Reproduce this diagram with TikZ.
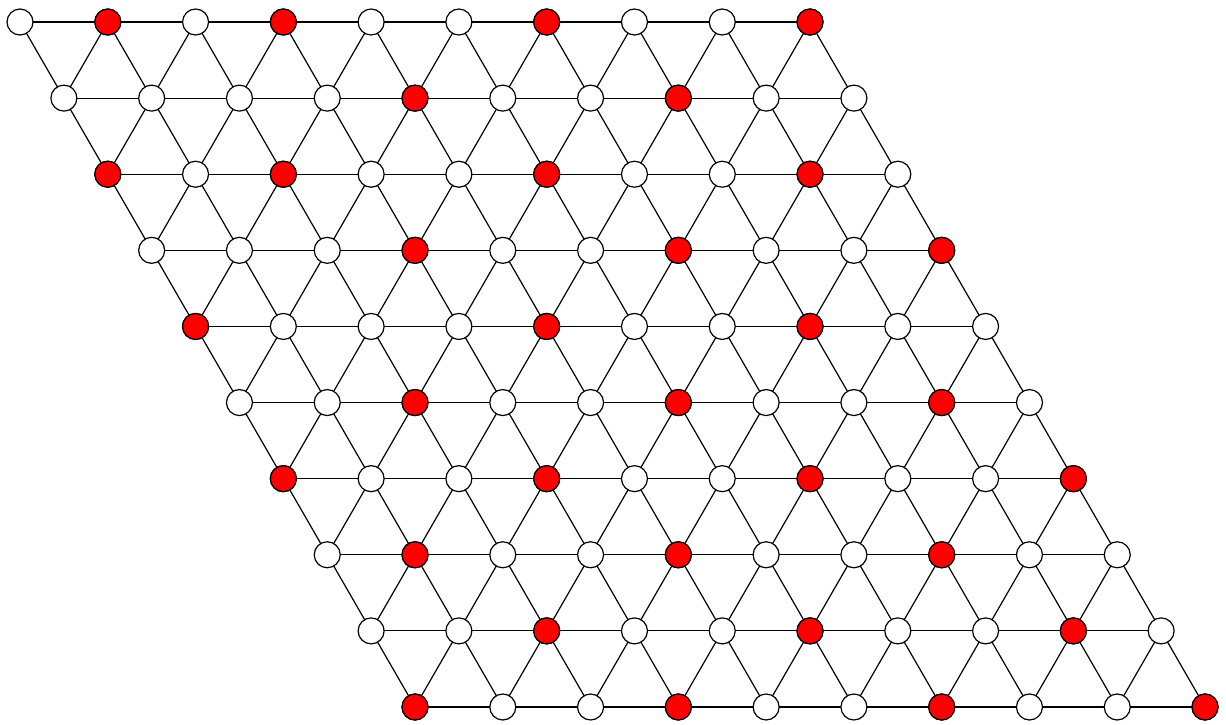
\documentclass[tikz,border=0pt]{standalone}
\begin{document}
\begin{tikzpicture}[x=1pt,y=-1pt,
  vtx/.style={circle,draw=black,line width=1.2pt,fill=white,minimum size=26pt,inner sep=0pt},
  red vtx/.style={vtx,fill=red},
  edge/.style={line width=1.2pt,draw=black}]
\useasboundingbox (0,0) rectangle (1226,724);
\def\dx{43.89}
\def\dy{76.11}
\foreach \r in {0,...,9}{
  \foreach \c in {0,...,9}{
    \coordinate (p-\r-\c) at ({20+\dx*(\r+2*\c)},{22+\dy*\r});
  }
}
% edges
\foreach \r in {0,...,9}{
  \foreach \c [evaluate=\c as \cn using int(\c+1)] in {0,...,8}{
    \draw[edge] (p-\r-\c) -- (p-\r-\cn);
  }
}
\foreach \r [evaluate=\r as \rn using int(\r+1)] in {0,...,8}{
  \foreach \c in {0,...,9}{
    \draw[edge] (p-\r-\c) -- (p-\rn-\c);
  }
  \foreach \c [evaluate=\c as \cm using int(\c-1)] in {1,...,9}{
    \draw[edge] (p-\r-\c) -- (p-\rn-\cm);
  }
}
% nodes
\foreach \r in {0,...,9}{
  \foreach \c in {0,...,9}{
    \node[vtx] (n-\r-\c) at (p-\r-\c) {};
  }
}
\foreach \r/\c in {0/1,0/3,0/6,0/9,
  1/4,1/7,
  2/0,2/2,2/5,2/8,
  3/3,3/6,3/9,
  4/0,4/4,4/7,
  5/2,5/5,5/8,
  6/0,6/3,6/6,6/9,
  7/1,7/4,7/7,
  8/2,8/5,8/8,
  9/0,9/3,9/6,9/9}{
  \node[red vtx] (m-\r-\c) at (p-\r-\c) {};
}
\end{tikzpicture}
\end{document}
